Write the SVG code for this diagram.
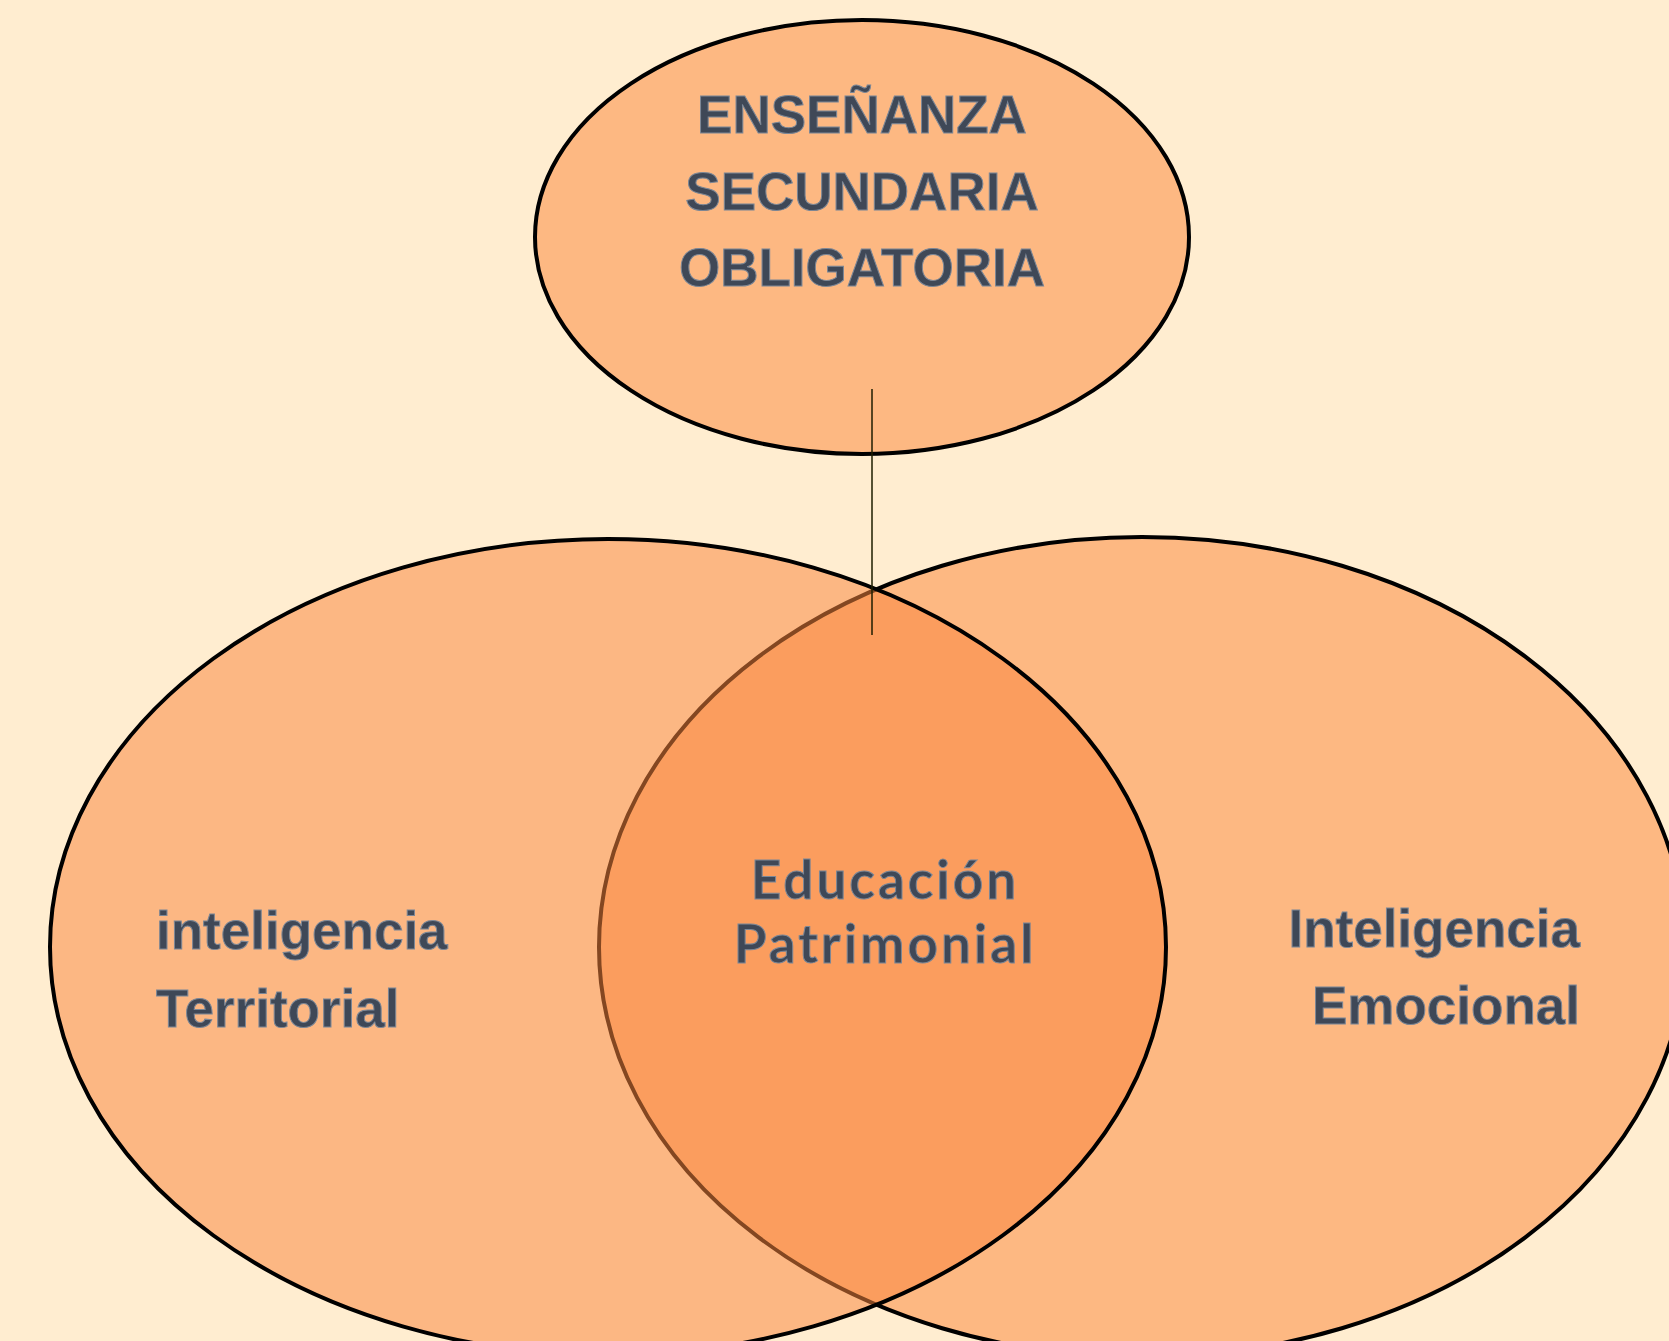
<svg xmlns="http://www.w3.org/2000/svg" width="1669" height="1341" viewBox="0 0 1669 1341">
<style>
.bg{fill:#FFEDD0}
.node{stroke:#000;stroke-width:4}
.lt{fill:#FDB882}
.ov{fill:#FA873E;fill-opacity:0.53}
.t{font-family:"Liberation Sans",Arial,sans-serif;font-weight:bold;font-size:53px;fill:#3F4857;stroke:#7C8796;stroke-width:1}
.t2{font-family:Lato,"Open Sans",sans-serif;font-weight:bold;font-size:53px;letter-spacing:3px;fill:#3F4857;stroke:#7C8796;stroke-width:1}
.conn{stroke:#1E1E00;stroke-width:1.5;fill:none}
</style>
<rect class="bg" x="0" y="0" width="1669" height="1341"/>
<g id="node-emocional">
<ellipse class="node lt" cx="1142" cy="947" rx="543" ry="410"/>
<text class="t" text-anchor="end" x="1580" y="947">Inteligencia</text>
<text class="t" text-anchor="end" x="1580" y="1024">Emocional</text>
</g>
<g id="node-territorial">
<ellipse class="node ov" cx="608" cy="947" rx="558" ry="408"/>
<text class="t" x="156" y="949">inteligencia</text>
<text class="t" x="156" y="1027">Territorial</text>
</g>
<g id="node-patrimonial">
<text class="t2" text-anchor="middle" x="885" y="899">Educación</text>
<text class="t2" text-anchor="middle" x="885" y="963">Patrimonial</text>
</g>
<g id="node-eso">
<ellipse class="node lt" cx="862" cy="237" rx="327" ry="217"/>
<text class="t" text-anchor="middle" x="862" y="133">ENSEÑANZA</text>
<text class="t" text-anchor="middle" x="862" y="210">SECUNDARIA</text>
<text class="t" text-anchor="middle" x="862" y="286">OBLIGATORIA</text>
</g>
<g id="connectors">
<line class="conn" x1="872" y1="389" x2="872" y2="635"/>
</g>
</svg>
